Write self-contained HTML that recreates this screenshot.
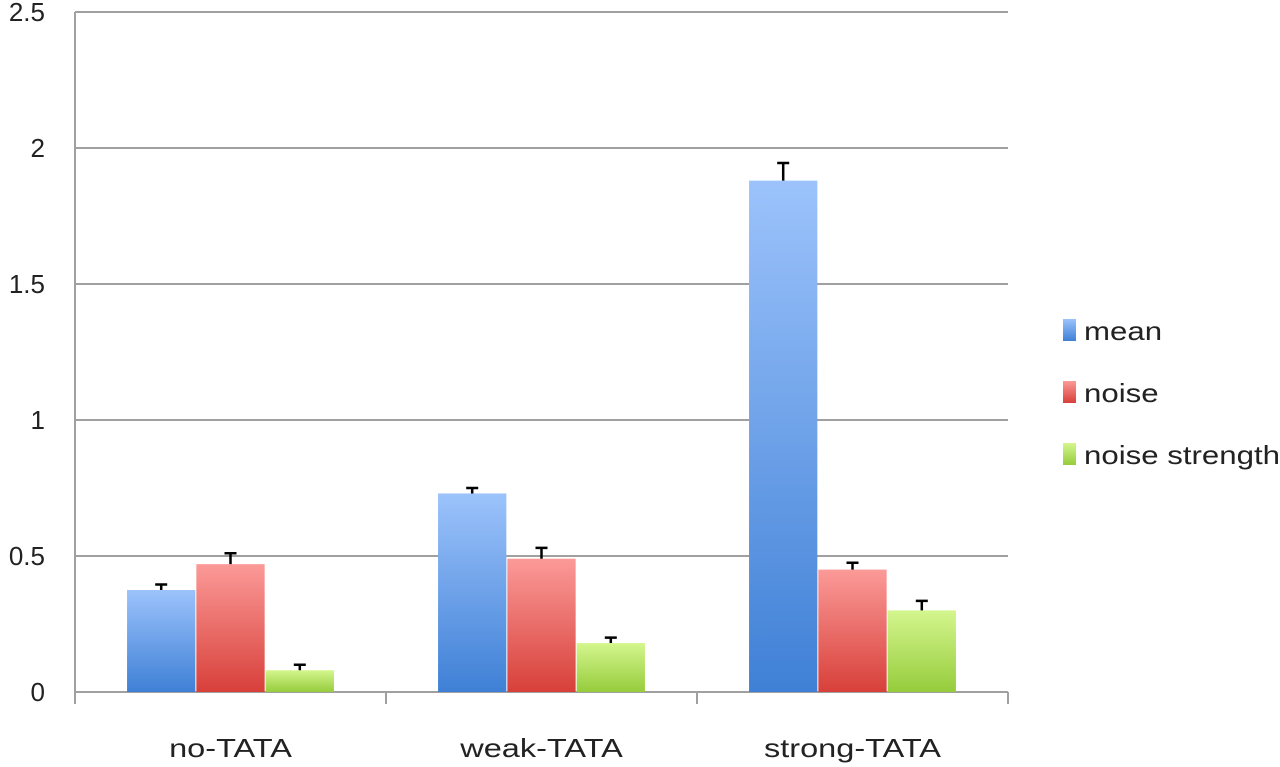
<!DOCTYPE html>
<html><head><meta charset="utf-8"><style>
html,body{margin:0;padding:0;background:#fff;}
svg{display:block;font-family:"Liberation Sans",sans-serif;}
</style></head><body>
<svg id="chart" width="1280" height="767">
<defs>
<linearGradient id="gb" x1="0" y1="0" x2="0" y2="1"><stop offset="0" stop-color="#9cc3fb"/><stop offset="1" stop-color="#3f80d6"/></linearGradient>
<linearGradient id="gr" x1="0" y1="0" x2="0" y2="1"><stop offset="0" stop-color="#fb9a98"/><stop offset="1" stop-color="#d8403a"/></linearGradient>
<linearGradient id="gg" x1="0" y1="0" x2="0" y2="1"><stop offset="0" stop-color="#d4f68e"/><stop offset="1" stop-color="#96cc3c"/></linearGradient>
</defs>
</svg>
<script>
const categories=["no-TATA","weak-TATA","strong-TATA"];
const seriesNames=["mean","noise","noise strength"];
const meanVals=[0.375,0.73,1.88];
const noiseVals=[0.47,0.49,0.45];
const strengthVals=[0.08,0.18,0.30];
const meanErr=[0.02,0.02,0.065];
const noiseErr=[0.04,0.04,0.025];
const strengthErr=[0.02,0.02,0.035];
const yTicks=[0,0.5,1,1.5,2,2.5];
const yTickLabels=["0","0.5","1","1.5","2","2.5"];

const NS="http://www.w3.org/2000/svg";
const svg=document.getElementById('chart');
const x0=75,x1=1008,y0=692,y1=12,ymax=2.5;
const y=v=>y0-(v/ymax)*(y0-y1);
const catW=(x1-x0)/categories.length;
const barW=69.3;
const FS=26;
function mk(t,a){const e=document.createElementNS(NS,t);for(const k in a)e.setAttribute(k,a[k]);svg.appendChild(e);return e;}
function stretch(el,ratio){const w=el.getComputedTextLength();el.setAttribute('textLength',w*ratio);el.setAttribute('lengthAdjust','spacingAndGlyphs');}
yTicks.forEach((t,i)=>{
  let l=mk('line',{x1:x0,x2:x1,y1:y(t),y2:y(t),stroke:'#a0a0a0','stroke-width':2});
  
  
  let tx=mk('text',{x:45,y:y(t)+9,'text-anchor':'end','font-size':FS,fill:'#222'});
  tx.textContent=yTickLabels[i];
  
  
});
let ax=mk('line',{x1:x0,x2:x0,y1:y1,y2:y0+12,stroke:'#a0a0a0','stroke-width':2});


for(let i=0;i<=categories.length;i++){
  let tk=mk('line',{x1:x0+i*catW,x2:x0+i*catW,y1:y0,y2:y0+12,stroke:'#a0a0a0','stroke-width':2});
  
  
}
const series=[meanVals,noiseVals,strengthVals];
const errs=[meanErr,noiseErr,strengthErr];
const fills=['url(#gb)','url(#gr)','url(#gg)'];
categories.forEach((c,ci)=>{
  const start=x0+ci*catW+catW/2-barW*1.5;
  series.forEach((s,si)=>{
    const bx=start+si*barW;
    let r=mk('rect',{x:bx+0.5,y:y(s[ci]),width:barW-1,height:y0-y(s[ci]),fill:fills[si]});
    
    
    const cx=bx+barW/2, top=y(s[ci]+errs[si][ci]);
    let e=mk('path',{d:`M${cx},${y(s[ci])}V${top}M${cx-6},${top}H${cx+6}`,stroke:'#000','stroke-width':2.5,fill:'none'});
    
    
  });
  let t=mk('text',{x:x0+ci*catW+catW/2,y:757,'text-anchor':'middle','font-size':FS,fill:'#222'});
  t.textContent=c;
  
  
  stretch(t,1.25);
});
seriesNames.forEach((n,i)=>{
  const ly=330+i*62;
  let sw=mk('rect',{x:1063,y:ly-11,width:13,height:22,fill:fills[i]});
  
  
  let t=mk('text',{x:1084,y:ly+10,'font-size':FS,fill:'#222'});
  t.textContent=n;
  
  
  stretch(t,1.2);
});
</script>
</body></html>
